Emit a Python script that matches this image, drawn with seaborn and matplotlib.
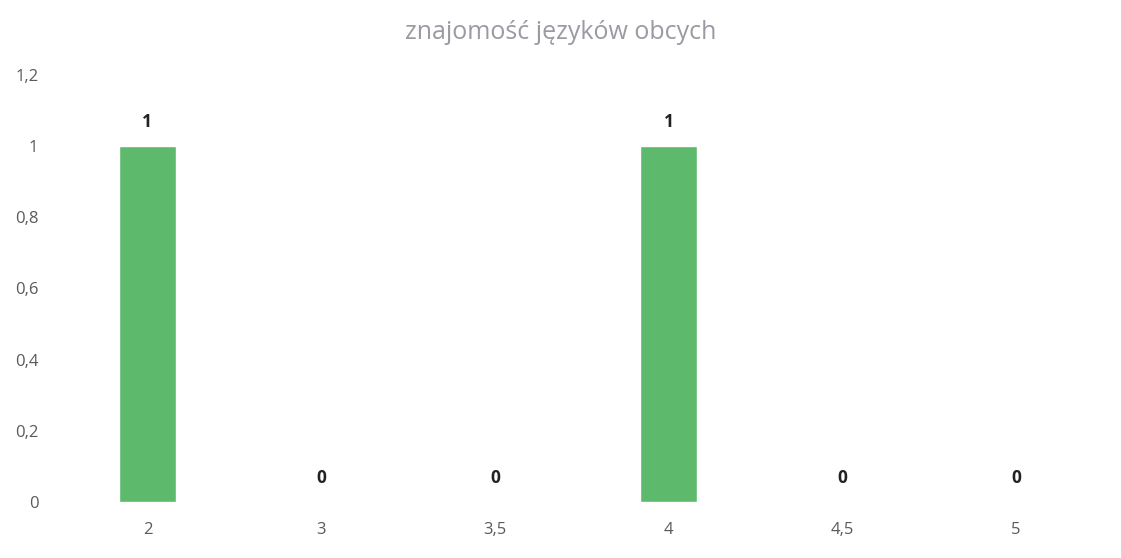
import matplotlib
matplotlib.use("Agg")
import matplotlib.pyplot as plt
import seaborn as sns
import pandas as pd

# dane do wykresu
oceny = ["2", "3", "3,5", "4", "4,5", "5"]
liczba = [1, 0, 0, 1, 0, 0]
y_ticks = [0, 0.2, 0.4, 0.6, 0.8, 1.0, 1.2]

df = pd.DataFrame({"ocena": oceny, "liczba": liczba})

sns.set_style("white")
plt.rcParams["font.family"] = ["Open Sans", "DejaVu Sans"]

fig = plt.figure(figsize=(11.21, 5.58), dpi=100)
ax = fig.add_axes([0.054, 0.10, 0.93, 0.766])

sns.barplot(data=df, x="ocena", y="liczba", color="#5dba6c", width=0.33,
            saturation=1, ax=ax)

for cont in ax.containers:
    ax.bar_label(cont, labels=[str(v) for v in liczba], padding=11,
                 fontsize=12.5, fontweight="bold", color="#222222")

ax.set_ylim(0, 1.2)
ax.set_yticks(y_ticks)
ax.set_yticklabels([f"{t:g}".replace(".", ",") for t in y_ticks])
ax.tick_params(axis="both", length=0, labelsize=12, labelcolor="#5a5a5a")
ax.tick_params(axis="x", pad=14)
ax.tick_params(axis="y", pad=16)
ax.set_xlabel("")
ax.set_ylabel("")
sns.despine(ax=ax, left=True, bottom=True)

fig.suptitle("znajomość języków obcych", y=0.965, fontsize=18, color="#9a9aa2")

fig.savefig("out.png", dpi=100)
